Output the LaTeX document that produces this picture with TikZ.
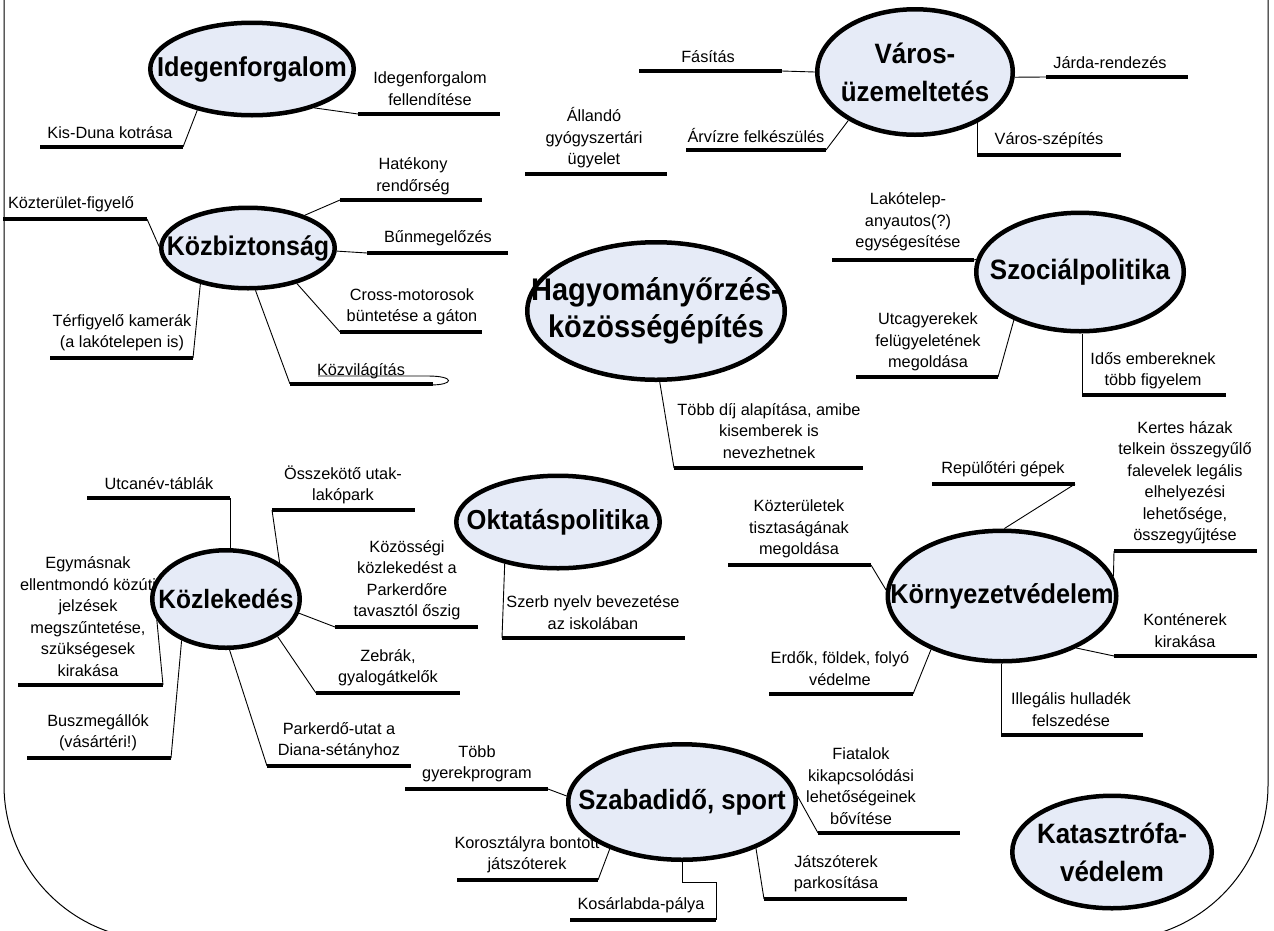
\documentclass[tikz,border=0pt]{standalone}
\usepackage{fontspec}
\setmainfont{Liberation Sans}
\newfontfamily\topicfont{Liberation Sans}[FakeStretch=0.926]
\usetikzlibrary{shapes.geometric}
\pgfdeclarelayer{back}
\pgfdeclarelayer{bg}
\pgfsetlayers{back,bg,main}
\definecolor{topicfill}{RGB}{230,235,247}
\begin{document}
\begin{tikzpicture}[x=1pt,y=-1pt,
  topic/.style={ellipse, draw=black, line width=4.5pt, fill=topicfill, inner sep=0pt},
  topiclabel/.style={font=\topicfont\bfseries\fontsize{28}{38}\selectfont, align=center, inner sep=0pt},
  leaf/.style={font=\fontsize{16.3}{21.5}\selectfont, align=center, inner sep=0pt},
  barline/.style={line width=4pt},
  conn/.style={line width=0.9pt},
  frameline/.style={line width=1pt}]
\useasboundingbox (0,0) rectangle (1274,930);
\begin{pgfonlayer}{back}
\fill[white] (0,0) rectangle (1274,930);
\end{pgfonlayer}

% ---------------- topics ----------------
\node[topic, minimum width=203.5pt, minimum height=92.5pt] (idf) at (252,69) {};
\node[topiclabel, font=\topicfont\bfseries\fontsize{27.3}{38}\selectfont] (idft) at (idf.center) {Idegenforgalom};
\node[topic, minimum width=195.5pt, minimum height=125.5pt] (varos) at (915,72) {};
\node[topiclabel] (varost) at (varos.center) {Város-\\üzemeltetés};
\node[topic, minimum width=173.5pt, minimum height=80.5pt] (kozb) at (248,248) {};
\node[topiclabel, font=\topicfont\bfseries\fontsize{27}{38}\selectfont] (kozbt) at (kozb.center) {Közbiztonság};
\node[topic, minimum width=257.5pt, minimum height=137.5pt] (hagy) at (656,311) {};
\node[topiclabel, font=\topicfont\bfseries\fontsize{31.3}{37}\selectfont] (hagyt) at (hagy.center) {Hagyományőrzés-\\közösségépítés};
\node[topic, minimum width=207.5pt, minimum height=118.5pt] (szoc) at (1080,272) {};
\node[topiclabel] (szoct) at (szoc.center) {Szociálpolitika};
\node[topic, minimum width=203.5pt, minimum height=92.5pt] (okt) at (558,522) {};
\node[topiclabel, font=\topicfont\bfseries\fontsize{27.5}{38}\selectfont] (oktt) at (okt.center) {Oktatáspolitika};
\node[topic, minimum width=147.5pt, minimum height=97.5pt] (kozl) at (226,599) {};
\node[topiclabel, font=\topicfont\bfseries\fontsize{26.5}{38}\selectfont] (kozlt) at (kozl.center) {Közlekedés};
\node[topic, minimum width=228.5pt, minimum height=130.5pt] (korny) at (1002,596) {};
\node[topiclabel, font=\topicfont\bfseries\fontsize{27.3}{38}\selectfont] (kornyt) at (korny.center) {Környezetvédelem};
\node[topic, minimum width=227.5pt, minimum height=115.5pt] (szab) at (682,802) {};
\node[topiclabel, font=\topicfont\bfseries\fontsize{27.8}{38}\selectfont] (szabt) at (szab.center) {Szabadidő, sport};
\node[topic, minimum width=199.5pt, minimum height=112.5pt] (kat) at (1112,852) {};
\node[topiclabel] (katt) at (kat.center) {Katasztrófa-\\védelem};

\begin{pgfonlayer}{bg}
% frame
\draw[frameline, rounded corners=155pt] (4,-40) -- (4,940) -- (1268,940) -- (1268,-40);

% ---- Idegenforgalom ----
\node[leaf] (idfl) at (430,88.75) {Idegenforgalom\\fellendítése};
\coordinate (idflL) at (358,114); \coordinate (idflR) at (500,114);
\draw[barline] (idflL) -- (idflR);
\draw[conn] (idf.-32) -- (idflL);

\node[leaf] (kisd) at (110,132.5) {Kis-Duna kotrása};
\coordinate (kisdL) at (40,147); \coordinate (kisdR) at (183,147);
\draw[barline] (kisdL) -- (kisdR);
\draw[conn] (idf.-143) -- (kisdR);

% ---- Város-üzemeltetés ----
\node[leaf] (fas) at (708,56.5) {Fásítás};
\coordinate (fasL) at (639,71); \coordinate (fasR) at (782,71);
\draw[barline] (fasL) -- (fasR);
\draw[conn] (varos.180) -- (fasR);

\node[leaf] (jarda) at (1110,62.5) {Járda-rendezés};
\coordinate (jardaL) at (1046,77); \coordinate (jardaR) at (1188,77);
\draw[barline] (jardaL) -- (jardaR);
\draw[conn] (varos.-3) -- (jardaL);

\node[leaf] (alland) at (594,138) {Állandó\\gyógyszertári\\ügyelet};
\coordinate (allandL) at (525,174); \coordinate (allandR) at (667,174);
\draw[barline] (allandL) -- (allandR);

\node[leaf] (arviz) at (756,135.5) {Árvízre felkészülés};
\coordinate (arvizL) at (686,150); \coordinate (arvizR) at (826,150);
\draw[barline] (arvizL) -- (arvizR);
\draw[conn] (varos.-144) -- (arvizR);

\node[leaf] (vszep) at (1049,140.5) {Város-szépítés};
\coordinate (vszepL) at (977,155); \coordinate (vszepR) at (1121,155);
\draw[barline] (vszepL) -- (vszepR);
\draw[conn] (vszepL) -- (vszepL |- varos.-35);

% ---- Közbiztonság ----
\node[leaf] (hatek) at (413,176) {Hatékony\\rendőrség};
\coordinate (hatekL) at (340,200); \coordinate (hatekR) at (482,200);
\draw[barline] (hatekL) -- (hatekR);
\draw[conn] (kozb.30) -- (hatekL);

\node[leaf] (kozter) at (71,204.5) {Közterület-figyelő};
\coordinate (kozterL) at (3,219); \coordinate (kozterR) at (147,219);
\draw[barline] (kozterL) -- (kozterR);
\draw[conn] (kozb.179) -- (kozterR);

\node[leaf] (bun) at (438,238.5) {Bűnmegelőzés};
\coordinate (bunL) at (367,253); \coordinate (bunR) at (508,253);
\draw[barline] (bunL) -- (bunR);
\draw[conn] (kozb.-2) -- (bunL);

\node[leaf] (cross) at (412,306.75) {Cross-motorosok\\büntetése a gáton};
\coordinate (crossL) at (340,332); \coordinate (crossR) at (482,332);
\draw[barline] (crossL) -- (crossR);
\draw[conn] (kozb.-36) -- (crossL);

\node[leaf] (terf) at (122,332.75) {Térfigyelő kamerák\\(a lakótelepen is)};
\coordinate (terfL) at (50,358); \coordinate (terfR) at (193,358);
\draw[barline] (terfL) -- (terfR);
\draw[conn] (kozb.-143) -- (terfR);

\node[leaf] (kozvil) at (361,371) {Közvilágítás};
\coordinate (kozvilL) at (290,384); \coordinate (kozvilR) at (433,384);
\draw[barline] (kozvilL) -- (kozvilR);
\draw[conn] (kozb.-80) -- (kozvilL);
\coordinate (kvA) at (318,376); \coordinate (kvB) at (428,376);
\coordinate (kvC) at (430,385);
\draw[conn] (kvA) -- (kvB) .. controls (455,376) and (455,385) .. (kvC);

% ---- Hagyományőrzés ----
\node[leaf] (tobbdij) at (769,431) {Több díj alapítása, amibe\\kisemberek is\\nevezhetnek};
\coordinate (tobbdijL) at (674,468); \coordinate (tobbdijR) at (863,468);
\draw[barline] (tobbdijL) -- (tobbdijR);
\draw[conn] (hagy.-87) -- (tobbdijL);

% ---- Szociálpolitika ----
\node[leaf] (lakot) at (908,222) {Lakótelep-\\anyautos(?)\\egységesítése};
\coordinate (lakotL) at (832,260); \coordinate (lakotR) at (974,260);
\draw[barline] (lakotL) -- (lakotR);
\draw[conn] (szoc.173) -- (lakotR);

\node[leaf] (utcagy) at (928,342) {Utcagyerekek\\felügyeletének\\megoldása};
\coordinate (utcagyL) at (856,377); \coordinate (utcagyR) at (998,377);
\draw[barline] (utcagyL) -- (utcagyR);
\draw[conn] (szoc.-144) -- (utcagyR);

\node[leaf] (idos) at (1153,370.5) {Idős embereknek\\több figyelem};
\coordinate (idosL) at (1082,395); \coordinate (idosR) at (1226,395);
\draw[barline] (idosL) -- (idosR);
\draw[conn] (idosL) -- (idosL |- szoc.south);

% ---- Oktatáspolitika ----
\node[leaf] (szerb) at (593,612.75) {Szerb nyelv bevezetése\\az iskolában};
\coordinate (szerbL) at (502,638); \coordinate (szerbR) at (685,638);
\draw[barline] (szerbL) -- (szerbR);
\draw[conn] (okt.-142) -- (szerbL);

% ---- Közlekedés ----
\node[leaf] (utcanev) at (159,483.5) {Utcanév-táblák};
\coordinate (utcanevL) at (87,498); \coordinate (utcanevR) at (230,498);
\draw[barline] (utcanevL) -- (utcanevR);
\draw[conn] (utcanevR) -- (utcanevR |- kozl.north);

\node[leaf] (osszek) at (343,484.75) {Összekötő utak-\\lakópark};
\coordinate (osszekL) at (272,510); \coordinate (osszekR) at (415,510);
\draw[barline] (osszekL) -- (osszekR);
\draw[conn] (kozl.34) -- (osszekL);

\node[leaf] (kozoss) at (407,580.25) {Közösségi\\közlekedést a\\Parkerdőre\\tavasztól őszig};
\coordinate (kozossL) at (335,627); \coordinate (kozossR) at (478,627);
\draw[barline] (kozossL) -- (kozossR);
\draw[conn] (kozl.-11) -- (kozossL);

\node[leaf] (egym) at (88,616.75) {Egymásnak\\ellentmondó közúti\\jelzések\\megszűntetése,\\szükségesek\\kirakása};
\coordinate (egymL) at (18,685); \coordinate (egymR) at (163,685);
\draw[barline] (egymL) -- (egymR);
\draw[conn] (kozl.-163) -- (egymR);

\node[leaf] (zebra) at (388,667.75) {Zebrák,\\gyalogátkelők};
\coordinate (zebraL) at (316,693); \coordinate (zebraR) at (460,693);
\draw[barline] (zebraL) -- (zebraR);
\draw[conn] (kozl.-36) -- (zebraL);

\node[leaf] (busz) at (98,732.75) {Buszmegállók\\(vásártéri!)};
\coordinate (buszL) at (27,758); \coordinate (buszR) at (171,758);
\draw[barline] (buszL) -- (buszR);
\draw[conn] (kozl.-137) -- (buszR);

\node[leaf] (parker) at (339,740.75) {Parkerdő-utat a\\Diana-sétányhoz};
\coordinate (parkerL) at (267,766); \coordinate (parkerR) at (411,766);
\draw[barline] (parkerL) -- (parkerR);
\draw[conn] (kozl.-86) -- (parkerL);

% ---- Környezetvédelem ----
\node[leaf] (repul) at (1003,469) {Repülőtéri gépek};
\coordinate (repulL) at (932,484); \coordinate (repulR) at (1075,484);
\draw[barline] (repulL) -- (repulR);
\draw[conn] (korny.88) -- (repulR);

\node[leaf] (kertes) at (1185,482.75) {Kertes házak\\telkein összegyűlő\\falevelek legális\\elhelyezési\\lehetősége,\\összegyűjtése};
\coordinate (kertesL) at (1114,551); \coordinate (kertesR) at (1257,551);
\draw[barline] (kertesL) -- (kertesR);
\draw[conn] (korny.10) -- (kertesL);

\node[leaf] (kozteru) at (799,529) {Közterületek\\tisztaságának\\megoldása};
\coordinate (kozteruL) at (728,565); \coordinate (kozteruR) at (871,565);
\draw[barline] (kozteruL) -- (kozteruR);
\draw[conn] (korny.177) -- (kozteruR);

\node[leaf] (kont) at (1185,630.75) {Konténerek\\kirakása};
\coordinate (kontL) at (1114,656); \coordinate (kontR) at (1257,656);
\draw[barline] (kontL) -- (kontR);
\draw[conn] (korny.-35) -- (kontL);

\node[leaf] (erdok) at (840,668.75) {Erdők, földek, folyó\\védelme};
\coordinate (erdokL) at (769,694); \coordinate (erdokR) at (913,694);
\draw[barline] (erdokL) -- (erdokR);
\draw[conn] (korny.-143) -- (erdokR);

\node[leaf] (illeg) at (1071,709.75) {Illegális hulladék\\felszedése};
\coordinate (illegL) at (1001,735); \coordinate (illegR) at (1143,735);
\draw[barline] (illegL) -- (illegR);
\draw[conn] (illegL) -- (illegL |- korny.south);

% ---- Szabadidő, sport ----
\node[leaf] (tobbgy) at (477,763.75) {Több\\gyerekprogram};
\coordinate (tobbgyL) at (405,789); \coordinate (tobbgyR) at (548,789);
\draw[barline] (tobbgyL) -- (tobbgyR);
\draw[conn] (szab.177) -- (tobbgyR);

\node[leaf] (fiatal) at (861,786.25) {Fiatalok\\kikapcsolódási\\lehetőségeinek\\bővítése};
\coordinate (fiatalL) at (818,833); \coordinate (fiatalR) at (960,833);
\draw[barline] (fiatalL) -- (fiatalR);
\draw[conn] (szab.3) -- (fiatalL);

\node[leaf] (koroszt) at (527,854.75) {Korosztályra bontott\\játszóterek};
\coordinate (korosztL) at (457,880); \coordinate (korosztR) at (598,880);
\draw[barline] (korosztL) -- (korosztR);
\draw[conn] (szab.-147) -- (korosztR);

\node[leaf] (kosar) at (641,905.5) {Kosárlabda-pálya};
\coordinate (kosarL) at (570,920); \coordinate (kosarR) at (716,920);
\coordinate (kosK) at (716,882);
\draw[barline] (kosarL) -- (kosarR);
\draw[conn] (szab.south) |- (kosK) -- (kosarR);

\node[leaf] (jatsz) at (836,873.75) {Játszóterek\\parkosítása};
\coordinate (jatszL) at (764,899); \coordinate (jatszR) at (907,899);
\draw[barline] (jatszL) -- (jatszR);
\draw[conn] (szab.-32) -- (jatszL);
\end{pgfonlayer}
\end{tikzpicture}
\end{document}
